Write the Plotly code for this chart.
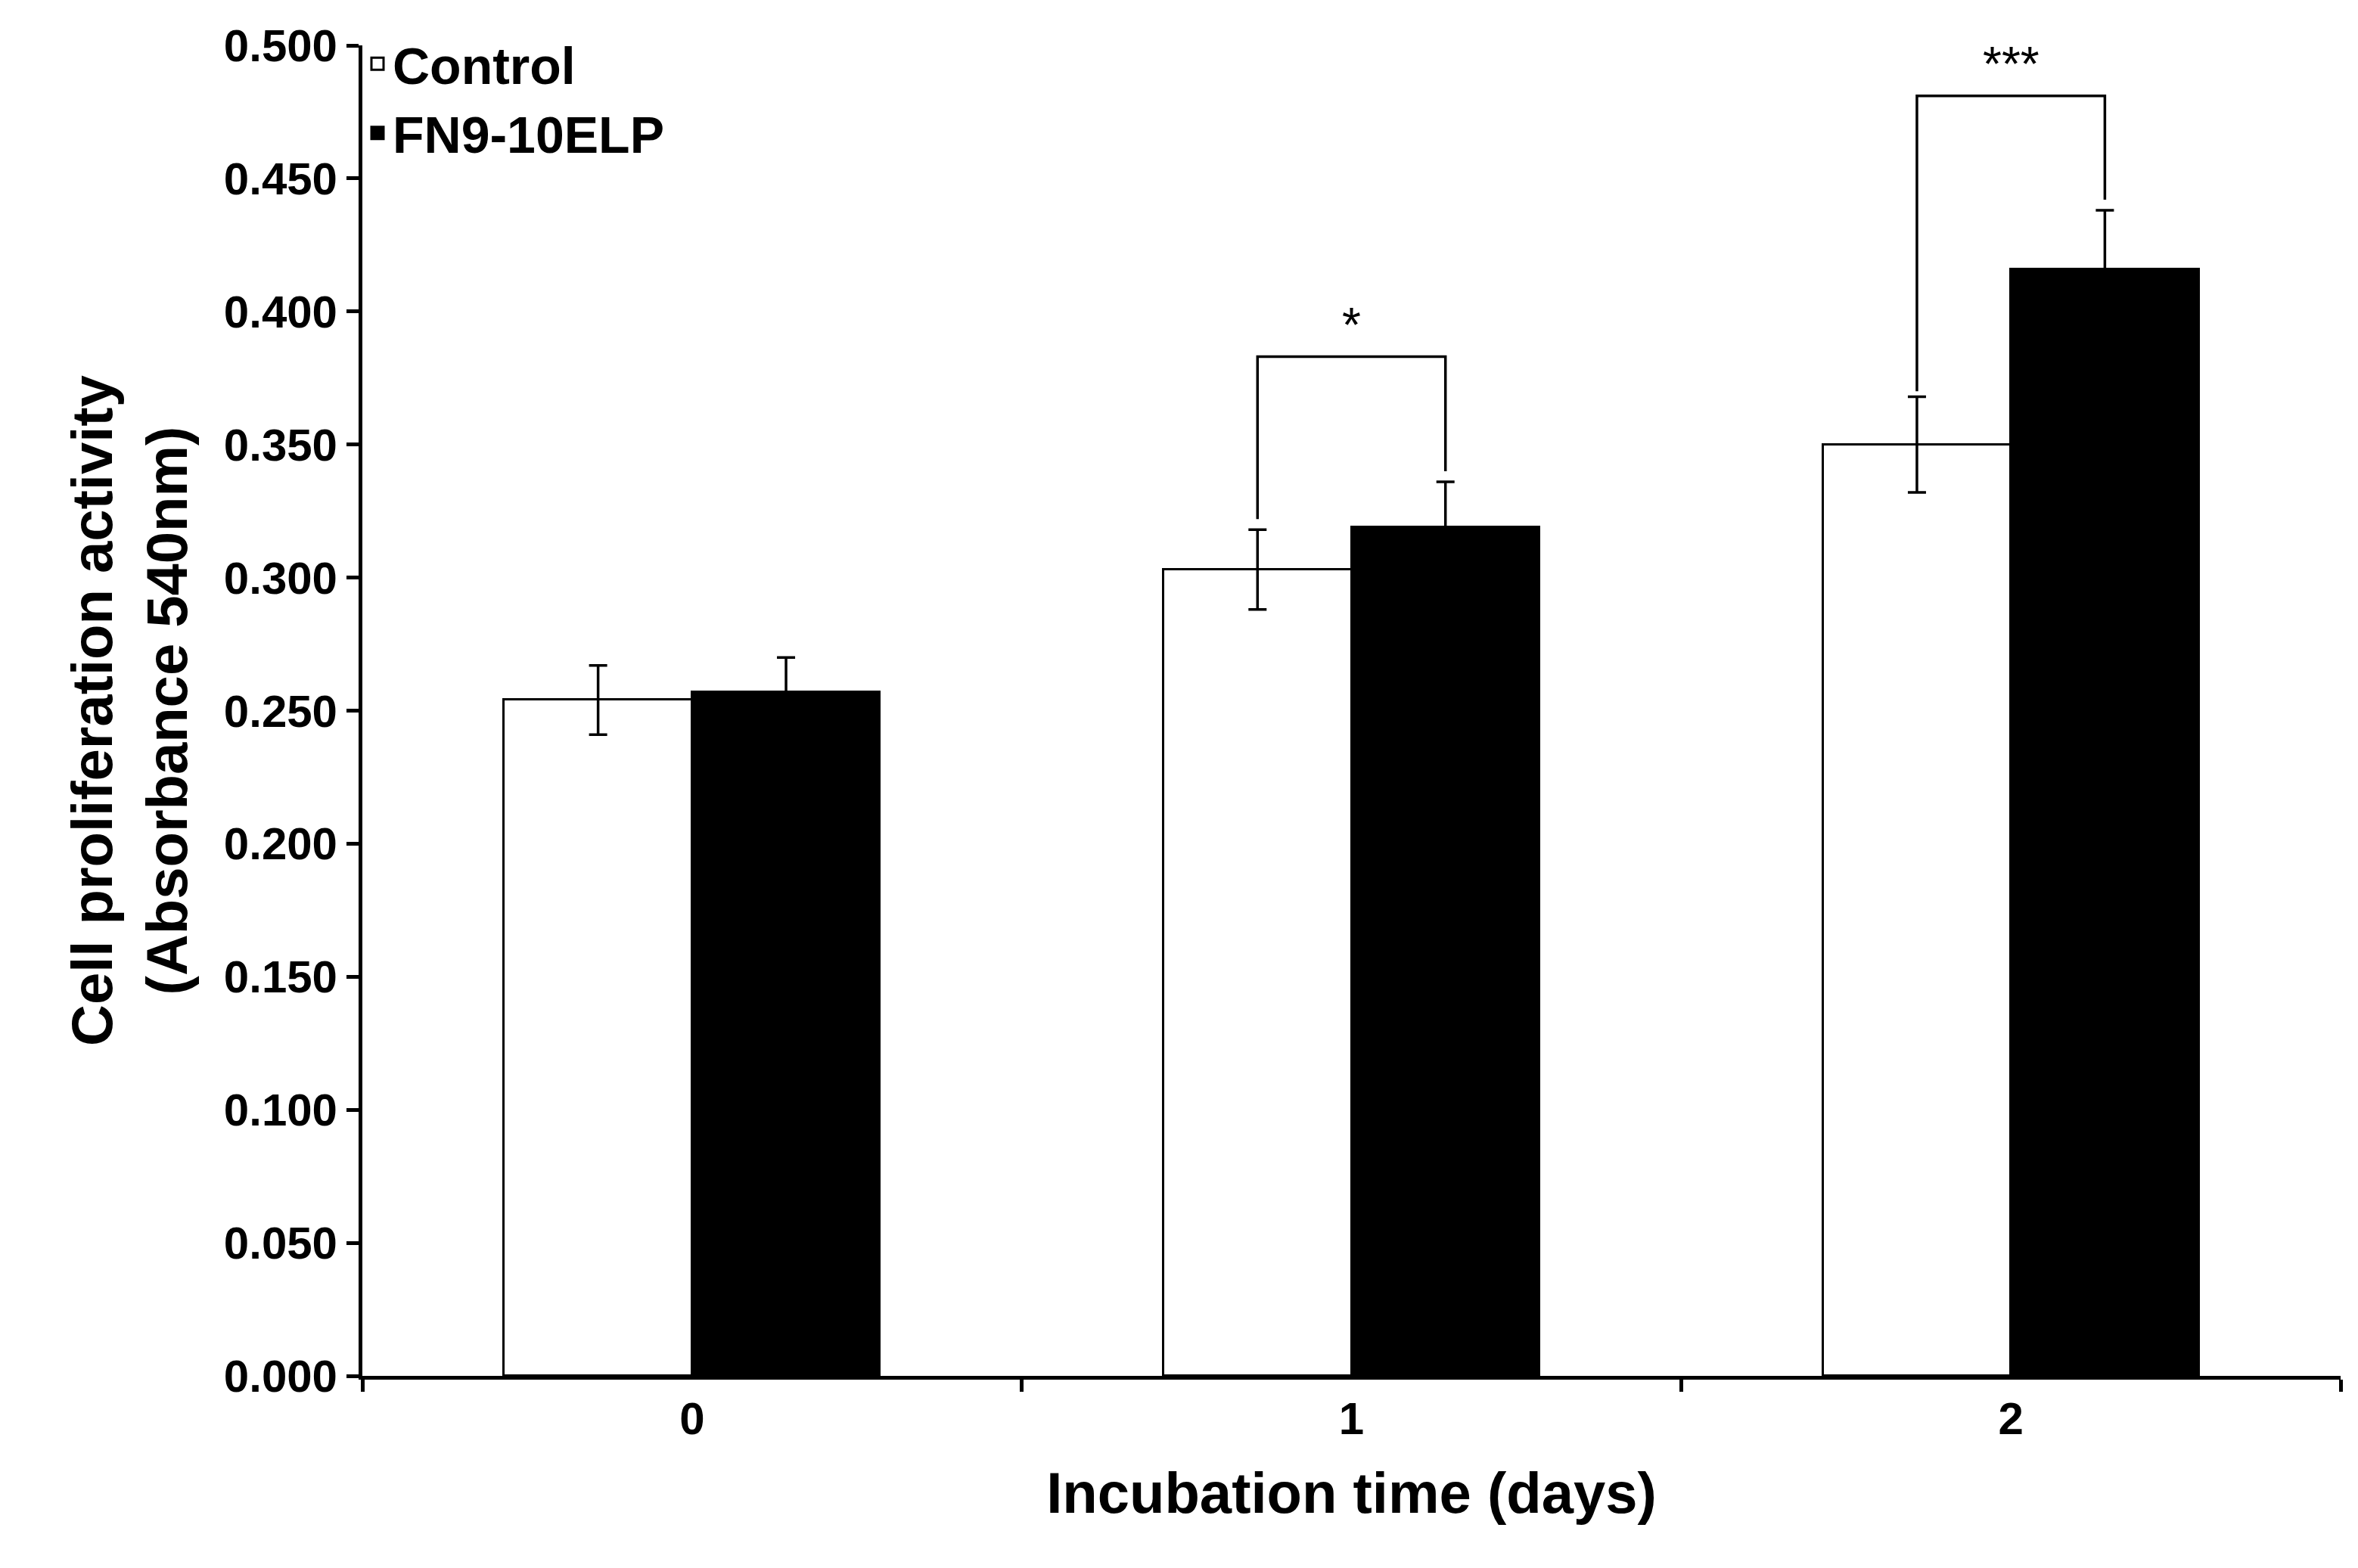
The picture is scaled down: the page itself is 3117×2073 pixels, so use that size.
import plotly.graph_objects as go

days = [0, 1, 2]
day_labels = ["0", "1", "2"]
control = [0.254, 0.303, 0.350]
control_err = [0.013, 0.015, 0.018]
fn = [0.257, 0.319, 0.416]
fn_err = [0.013, 0.017, 0.022]
sig_days = [1, 2]
sig_labels = ["*", "***"]
sig_left = [0.322, 0.370]
sig_top = [0.383, 0.481]
sig_right = [0.340, 0.442]

W = 0.285
font = "Liberation Sans, Arial, sans-serif"
fig = go.Figure()
fig.add_bar(x=days, y=control, name="Control", width=W, offset=-W, showlegend=False,
            marker=dict(color="white", line=dict(color="black", width=3)),
            error_y=dict(type="data", array=control_err, color="black", thickness=3.5, width=12))
fig.add_bar(x=days, y=fn, name="FN9-10ELP", width=W, offset=0, showlegend=False,
            marker=dict(color="black", line=dict(color="black", width=3)),
            error_y=dict(type="data", array=fn_err, color="black", thickness=3.5, width=12))
fig.add_scatter(x=[None], y=[None], mode="markers", name="Control",
                marker=dict(symbol="square", size=30, color="white", line=dict(color="black", width=3)))
fig.add_scatter(x=[None], y=[None], mode="markers", name="FN9-10ELP",
                marker=dict(symbol="square", size=30, color="black", line=dict(color="black", width=3)))

for d, lab, yl, yt, yr in zip(sig_days, sig_labels, sig_left, sig_top, sig_right):
    xl, xr = d - W / 2, d + W / 2
    fig.add_shape(type="path", path=f"M {xl},{yl} L {xl},{yt} L {xr},{yt} L {xr},{yr}",
                  line=dict(color="black", width=3.5))
    fig.add_annotation(x=d, y=yt, text=lab, showarrow=False, yanchor="bottom", yshift=4,
                       font=dict(family=font, size=64, color="black"))

fig.update_layout(
    width=3117, height=2073, plot_bgcolor="white", paper_bgcolor="white",
    margin=dict(l=471, r=31, t=52, b=262),
    bargap=0, showlegend=True,
    legend=dict(x=0.0, y=1.015, xanchor="left", yanchor="top", bgcolor="rgba(0,0,0,0)",
                font=dict(family=font, size=68, color="black", weight="bold"),
                tracegroupgap=50, itemwidth=30),
    font=dict(family=font, color="black"),
)
fig.update_xaxes(range=[-0.5, 2.5], tickvals=days, ticktext=day_labels, ticks="",
                 showline=True, linecolor="black", linewidth=5, showgrid=False, zeroline=False,
                 tickfont=dict(size=60, weight="bold"),
                 minor=dict(tick0=0.5, dtick=1, ticks="outside", ticklen=16, tickwidth=5, tickcolor="black"),
                 title=dict(text="Incubation time (days)", font=dict(size=76, weight="bold"), standoff=40))
fig.update_yaxes(range=[0, 0.5], dtick=0.05, tickformat=".3f", ticks="outside", ticklen=16, tickwidth=5,
                 tickcolor="black", showline=True, linecolor="black", linewidth=5, showgrid=False,
                 zeroline=False, tickfont=dict(size=60, weight="bold"),
                 title=dict(text="Cell proliferation activity<br>(Absorbance 540nm)",
                            font=dict(size=76, weight="bold"), standoff=25))
fig.write_html("out.html")
